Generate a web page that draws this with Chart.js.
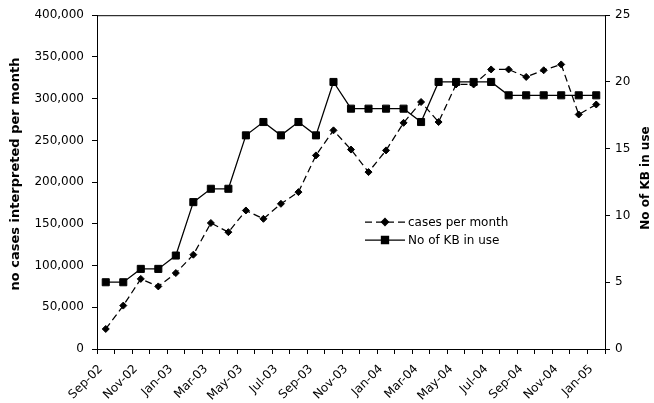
<!DOCTYPE html>
<html>
<head>
<meta charset="utf-8">
<script src="https://cdn.jsdelivr.net/npm/chart.js"></script>
<style>
  body { margin: 0; background: #fff; }
  #wrap { width: 654px; height: 403px; }
</style>
</head>
<body>
<div id="wrap"><canvas id="myChart" width="654" height="403"></canvas></div>
<script>
const months = ['Sep-02','Oct-02','Nov-02','Dec-02','Jan-03','Feb-03','Mar-03','Apr-03','May-03','Jun-03',
  'Jul-03','Aug-03','Sep-03','Oct-03','Nov-03','Dec-03','Jan-04','Feb-04','Mar-04','Apr-04',
  'May-04','Jun-04','Jul-04','Aug-04','Sep-04','Oct-04','Nov-04','Dec-04','Jan-05'];
const casesPerMonth = [24000, 52000, 84000, 75000, 91000, 113000, 151000, 140000, 166000, 156000,
  174000, 188000, 232000, 262000, 239000, 212000, 238000, 271000, 296000, 272000,
  317000, 317000, 335000, 335000, 326000, 334000, 341000, 281000, 293000];
const kbInUse = [5, 5, 6, 6, 7, 11, 12, 12, 16, 17, 16, 17, 16, 20, 18, 18, 18, 18, 17, 20,
  20, 20, 20, 19, 19, 19, 19, 19, 19];
const leftTicks = [0, 400000, 50000];   // min, max, step
const rightTicks = [0, 25, 5];
const leftTitle = 'no cases interpreted per month';
const rightTitle = 'No of KB in use';

const tickFont = { family: 'DejaVu Sans', size: 12 };

// draws the box top, both axis titles and the legend inside the plot
const extras = {
  id: 'extras',
  afterDraw(chart) {
    const ctx = chart.ctx;
    const a = chart.chartArea;
    ctx.save();
    ctx.strokeStyle = '#000';
    ctx.lineWidth = 1;
    ctx.beginPath();
    ctx.moveTo(a.left, a.top + 0.5);
    ctx.lineTo(a.right, a.top + 0.5);
    ctx.stroke();

    ctx.fillStyle = '#000';
    ctx.textAlign = 'center';
    ctx.textBaseline = 'middle';
    ctx.font = 'bold 13px "DejaVu Sans"';
    ctx.translate(16, 174);
    ctx.rotate(-Math.PI / 2);
    ctx.fillText(leftTitle, 0, 0);
    ctx.setTransform(1, 0, 0, 1, 0, 0);
    ctx.font = 'bold 12px "DejaVu Sans"';
    ctx.translate(646, 178);
    ctx.rotate(-Math.PI / 2);
    ctx.fillText(rightTitle, 0, 0);
    ctx.setTransform(1, 0, 0, 1, 0, 0);

    ctx.font = '12px "DejaVu Sans"';
    ctx.textAlign = 'left';
    chart.data.datasets.forEach((ds, i) => {
      const y = 222 + i * 18;
      ctx.setLineDash(ds.borderDash || []);
      ctx.lineWidth = ds.borderWidth;
      ctx.beginPath();
      ctx.moveTo(365, y);
      ctx.lineTo(405, y);
      ctx.stroke();
      ctx.setLineDash([]);
      ctx.fillStyle = '#000';
      Chart.helpers.drawPoint(ctx, { pointStyle: ds.pointStyle, radius: ds.pointRadius, rotation: 0, borderWidth: 1 }, 385, y);
      ctx.fillText(ds.label, 408, y + 1);
    });
    ctx.restore();
  }
};

new Chart(document.getElementById('myChart'), {
  type: 'line',
  data: {
    labels: months,
    datasets: [{
      label: 'cases per month',
      data: casesPerMonth,
      yAxisID: 'y',
      borderColor: '#000',
      backgroundColor: '#000',
      borderWidth: 1.25,
      borderDash: [7, 4],
      pointStyle: 'rectRot',
      pointRadius: 3.5,
      pointBorderWidth: 1,
      tension: 0
    }, {
      label: 'No of KB in use',
      data: kbInUse,
      yAxisID: 'y1',
      borderColor: '#000',
      backgroundColor: '#000',
      borderWidth: 1.25,
      pointStyle: 'rect',
      pointRadius: 5,
      pointBorderWidth: 1,
      tension: 0
    }]
  },
  options: {
    responsive: false,
    animation: false,
    layout: { padding: { top: 15, left: 0, right: 0, bottom: 0 } },
    plugins: { legend: { display: false }, tooltip: { enabled: false } },
    scales: {
      x: {
        offset: true,
        grid: { drawOnChartArea: false, offset: true, tickLength: 5, color: '#000' },
        border: { color: '#000', width: 1 },
        ticks: {
          autoSkip: false, minRotation: 45, maxRotation: 45, color: '#000', font: tickFont,
          padding: 8, labelOffset: -5,
          callback: function (v, i) { return i % 2 === 0 ? this.getLabelForValue(v) : ''; }
        },
        afterFit: s => { s.height = 54; }
      },
      y: {
        position: 'left',
        min: leftTicks[0], max: leftTicks[1],
        grid: { drawOnChartArea: false, tickLength: 5, color: '#000' },
        border: { color: '#000', width: 1 },
        ticks: { stepSize: leftTicks[2], color: '#000', font: tickFont, padding: 8 },
        afterFit: s => { s.width = 97; }
      },
      y1: {
        position: 'right',
        min: rightTicks[0], max: rightTicks[1],
        grid: { drawOnChartArea: false, tickLength: 5, color: '#000' },
        border: { color: '#000', width: 1 },
        ticks: { stepSize: rightTicks[2], color: '#000', font: tickFont, padding: 5 },
        afterFit: s => { s.width = 49; }
      }
    }
  },
  plugins: [extras]
});
</script>
</body>
</html>
